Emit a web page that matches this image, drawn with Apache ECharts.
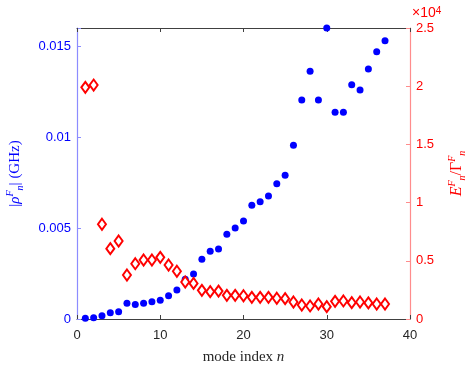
<!DOCTYPE html>
<html>
<head>
<meta charset="utf-8">
<script src="https://cdn.jsdelivr.net/npm/echarts@6/dist/echarts.min.js"></script>
<style>
html,body{margin:0;padding:0;background:#fff}
#main{width:469px;height:367px}
</style>
</head>
<body>
<div id="main"></div>
<script>
var modeIndex = [1,2,3,4,5,6,7,8,9,10,11,12,13,14,15,16,17,18,19,20,21,22,23,24,25,26,27,28,29,30,31,32,33,34,35,36,37]
// |rho_n^F| in GHz
var rhoF = [0.00004,0.00007,0.00018,0.00035,0.0004,0.00086,0.0008,0.00086,0.00095,0.00103,
	0.00128,0.0016,0.00218,0.00247,0.00328,0.00372,0.00385,0.00466,0.005,0.00539,
	0.00625,0.00645,0.00676,0.00744,0.0079,0.00955,0.01204,0.01362,0.01204,0.016,
	0.01137,0.01137,0.01288,0.01259,0.01375,0.0147,0.0153]
// E_n^F / Gamma_n^F
var ratioEG = [19900,20100,8140,6040,6700,3780,4750,5070,5070,5300,
	4640,4100,3180,3060,2460,2350,2400,2030,2030,2000,
	1860,1860,1860,1780,1750,1460,1200,1120,1290,1060,
	1520,1550,1400,1460,1380,1290,1290]

var blue='#0000ff', red='#ff0000'
var ec_main=echarts.init(document.getElementById("main"),null,{renderer:'canvas'})

var rhoData=modeIndex.map(function(n,i){return [n,rhoF[i]]})
var ratioData=modeIndex.map(function(n,i){return [n,ratioEG[i]]})

var option={
	animation:false,
	grid:{left:77,right:59,top:28,bottom:48,outerBoundsMode:'none',containLabel:false},
	xAxis:[{
		type:'value',min:0,max:40,interval:10,position:'bottom',
		name:'{t|mode index }{i|n}',nameLocation:'middle',nameGap:31,
		nameTextStyle:{rich:{
			t:{fontFamily:'Liberation Serif',fontSize:15,color:'#262626'},
			i:{fontFamily:'Liberation Serif',fontStyle:'italic',fontSize:15,color:'#262626'}
		}},
		axisLine:{show:true,onZero:false,lineStyle:{color:'#404040',width:1}},
		axisTick:{show:true,inside:true,length:4,lineStyle:{color:'#404040'}},
		axisLabel:{color:'#262626',fontSize:13,fontFamily:'Liberation Sans',margin:10},
		splitLine:{show:false}
	},{
		type:'value',min:0,max:40,interval:10,position:'top',
		axisLine:{show:true,onZero:false,lineStyle:{color:'#404040',width:1}},
		axisTick:{show:true,inside:true,length:4,lineStyle:{color:'#404040'}},
		axisLabel:{show:false},
		splitLine:{show:false}
	}],
	yAxis:[{
		type:'value',min:0,max:0.016,interval:0.005,position:'left',
		name:'|{r|ρ}{sup|F}{sub|n}| (GHz)',nameLocation:'middle',nameGap:52,nameRotate:90,
		nameTextStyle:{color:blue,fontFamily:'Liberation Serif',fontSize:15,rich:{
			r:{fontFamily:'Liberation Serif',fontStyle:'italic',fontSize:15,color:blue},
			sup:{fontFamily:'Liberation Serif',fontStyle:'italic',fontSize:10,color:blue,verticalAlign:'top',lineHeight:20},
			sub:{fontFamily:'Liberation Serif',fontStyle:'italic',fontSize:10,color:blue,verticalAlign:'bottom',lineHeight:20}
		}},
		axisLine:{show:true,onZero:false,lineStyle:{color:'#8c8cff',width:1.2}},
		axisTick:{show:true,inside:true,length:4,lineStyle:{color:'#8c8cff'}},
		axisLabel:{color:blue,fontSize:13,fontFamily:'Liberation Sans',margin:6,
			formatter:function(value){
				if(value>0.0155) return ''
				return String(Math.round(value*1000)/1000)
			}},
		splitLine:{show:false}
	},{
		type:'value',min:0,max:25000,interval:5000,position:'right',
		name:'{e|E}{sup|F}{sub|n}{t|/Γ}{sup|F}{sub|n}',nameLocation:'middle',nameGap:37,nameRotate:90,
		nameTextStyle:{color:red,rich:{
			e:{fontFamily:'Liberation Serif',fontStyle:'italic',fontSize:16,color:red},
			t:{fontFamily:'Liberation Serif',fontSize:16,color:red},
			sup:{fontFamily:'Liberation Serif',fontStyle:'italic',fontSize:10,color:red,verticalAlign:'top',lineHeight:20},
			sub:{fontFamily:'Liberation Serif',fontStyle:'italic',fontSize:10,color:red,verticalAlign:'bottom',lineHeight:20}
		}},
		axisLine:{show:true,onZero:false,lineStyle:{color:'#ff8c8c',width:1.2}},
		axisTick:{show:true,inside:true,length:4,lineStyle:{color:'#ff8c8c'}},
		axisLabel:{color:red,fontSize:13,fontFamily:'Liberation Sans',margin:6,
			formatter:function(value){
				return String(Math.round(value/1000)/10)
			}},
		splitLine:{show:false}
	}],
	graphic:[{
		type:'text',left:412,top:6,
		style:{
			text:'{a|×10}{b|4}',
			rich:{
				a:{fontFamily:'Liberation Sans',fontSize:14,fill:red,color:red},
				b:{fontFamily:'Liberation Sans',fontSize:10,fill:red,color:red,verticalAlign:'top'}
			}
		}
	}],
	series:[{
		name:'rho',type:'scatter',xAxisIndex:0,yAxisIndex:0,
		symbol:'circle',symbolSize:7,
		itemStyle:{color:blue,opacity:1},
		data:rhoData
	},{
		name:'ratio',type:'scatter',xAxisIndex:0,yAxisIndex:1,
		symbol:'emptyDiamond',symbolSize:[8,11],
		itemStyle:{color:red,borderColor:red,borderWidth:2.5,opacity:1},
		data:ratioData
	}]
}

ec_main.setOption(option)
</script>
</body>
</html>
